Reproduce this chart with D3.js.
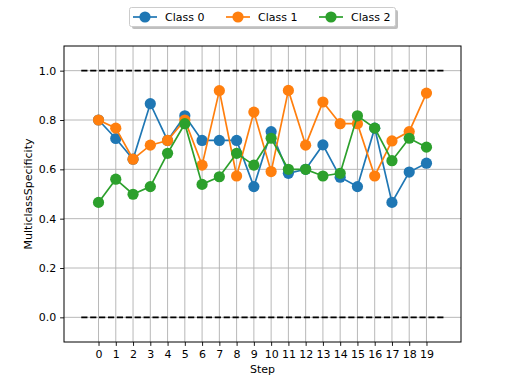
<!DOCTYPE html>
<html>
<head>
<meta charset="utf-8">
<script src="https://cdn.jsdelivr.net/npm/d3@7"></script>
<style>
  body { margin: 0; background: #fff; }
  text { font-family: "DejaVu Sans", sans-serif; fill: #000; }
</style>
</head>
<body>
<div id="chart"></div>
<script>
const steps = d3.range(20);
const classNames = ["Class 0", "Class 1", "Class 2"];
const colors = ["#1f77b4", "#ff7f0e", "#2ca02c"];
const class0 = [0.80, 0.725, 0.641, 0.866, 0.717, 0.817, 0.717, 0.717, 0.717, 0.530,
                0.753, 0.584, 0.600, 0.699, 0.568, 0.530, 0.767, 0.466, 0.589, 0.625];
const class1 = [0.80, 0.767, 0.641, 0.698, 0.717, 0.80, 0.617, 0.919, 0.573, 0.832,
                0.591, 0.920, 0.698, 0.873, 0.785, 0.785, 0.573, 0.715, 0.753, 0.909];
const class2 = [0.466, 0.560, 0.499, 0.530, 0.665, 0.785, 0.539, 0.570, 0.665, 0.617,
                0.726, 0.600, 0.600, 0.573, 0.584, 0.817, 0.767, 0.635, 0.726, 0.690];
const series = [class0, class1, class2];
const yTicks = [0.0, 0.2, 0.4, 0.6, 0.8, 1.0];
const refLines = [0.0, 1.0];

const width = 512, height = 384;
const margin = { left: 64, right: 51, top: 46, bottom: 42 };

const svg = d3.select("#chart").append("svg")
  .attr("width", width)
  .attr("height", height);

const x = d3.scaleLinear().domain([-2, 21]).range([margin.left, width - margin.right]);
const y = d3.scaleLinear().domain([-0.1, 1.1]).range([height - margin.bottom, margin.top]);

// grid
const grid = svg.append("g").attr("stroke", "#b0b0b0").attr("stroke-width", 0.9);
grid.selectAll(".gx").data(steps).enter().append("line")
  .attr("x1", d => x(d)).attr("x2", d => x(d))
  .attr("y1", y.range()[0]).attr("y2", y.range()[1]);
grid.selectAll(".gy").data(yTicks).enter().append("line")
  .attr("y1", d => y(d)).attr("y2", d => y(d))
  .attr("x1", x.range()[0]).attr("x2", x.range()[1]);

// dashed reference lines
svg.append("g").selectAll("line").data(refLines).enter().append("line")
  .attr("x1", x(-1)).attr("x2", x(20))
  .attr("y1", d => y(d)).attr("y2", d => y(d))
  .attr("stroke", "#000")
  .attr("stroke-width", 1.7)
  .attr("stroke-dasharray", "6.2,2.7");

// series
const line = d3.line().x((d, i) => x(steps[i])).y(d => y(d));
series.forEach((vals, k) => {
  const g = svg.append("g");
  g.append("path")
    .datum(vals)
    .attr("d", line)
    .attr("fill", "none")
    .attr("stroke", colors[k])
    .attr("stroke-width", 1.7);
  g.selectAll("circle").data(vals).enter().append("circle")
    .attr("cx", (d, i) => x(steps[i]))
    .attr("cy", d => y(d))
    .attr("r", 5.6)
    .attr("fill", colors[k]);
});

// axes
const xAxis = svg.append("g")
  .attr("transform", `translate(0,${y.range()[0]})`)
  .call(d3.axisBottom(x).tickValues(steps).tickFormat(d3.format("d")).tickSize(3.9).tickPadding(3.9));
const yAxis = svg.append("g")
  .attr("transform", `translate(${x.range()[0]},0)`)
  .call(d3.axisLeft(y).tickValues(yTicks).tickFormat(d3.format(".1f")).tickSize(3.9).tickPadding(3.9));
[xAxis, yAxis].forEach(a => {
  a.select(".domain").remove();
  a.selectAll("text").style("font-size", "11px").style("font-family", "DejaVu Sans");
  a.selectAll("line").attr("stroke", "#000").attr("stroke-width", 0.9);
});

// frame
svg.append("rect")
  .attr("x", x.range()[0]).attr("y", y.range()[1])
  .attr("width", x.range()[1] - x.range()[0])
  .attr("height", y.range()[0] - y.range()[1])
  .attr("fill", "none").attr("stroke", "#000").attr("stroke-width", 1);

// labels
svg.append("text")
  .attr("x", (x.range()[0] + x.range()[1]) / 2)
  .attr("y", 373)
  .attr("text-anchor", "middle")
  .style("font-size", "11px")
  .text("Step");
svg.append("text")
  .attr("transform", `translate(32,${(y.range()[0] + y.range()[1]) / 2}) rotate(-90)`)
  .attr("text-anchor", "middle")
  .style("font-size", "11px")
  .text("MulticlassSpecificity");

// legend
const leg = svg.append("g");
leg.append("rect")
  .attr("x", 132).attr("y", 10).attr("width", 266).attr("height", 19)
  .attr("rx", 2).attr("fill", "#808080").attr("opacity", 0.5);
leg.append("rect")
  .attr("x", 129.5).attr("y", 7.5).attr("width", 266).attr("height", 19)
  .attr("rx", 2).attr("fill", "#fff").attr("stroke", "#ccc").attr("stroke-width", 1);
const legX = [133, 226, 319];
classNames.forEach((name, k) => {
  const gi = leg.append("g").attr("transform", `translate(${legX[k]},17)`);
  gi.append("line").attr("x1", 0).attr("x2", 24).attr("stroke", colors[k]).attr("stroke-width", 1.7);
  gi.append("circle").attr("cx", 12).attr("r", 5.6).attr("fill", colors[k]);
  gi.append("text").attr("x", 32).attr("dy", "0.36em").style("font-size", "11px").text(name);
});
</script>
</body>
</html>
